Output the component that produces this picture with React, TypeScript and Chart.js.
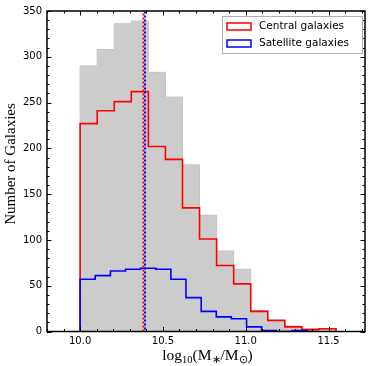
import React, { useEffect, useRef } from "react";
import { Chart, registerables } from "chart.js";

Chart.register(...registerables);

// ---- data ----
const allEdges = [10.0, 10.103, 10.206, 10.309, 10.412, 10.515, 10.618, 10.721, 10.824, 10.927, 11.03, 11.133, 11.236, 11.339, 11.442, 11.545];
const totalCounts = [290, 308, 336, 339, 283, 256, 182, 127, 88, 68, 23, 13, 6, 3, 3];
const centralCounts = [227, 241, 251, 262, 202, 188, 135, 101, 72, 52, 22, 12, 5, 2, 3];
const satelliteEdges = [10.0, 10.091, 10.183, 10.274, 10.365, 10.457, 10.548, 10.639, 10.731, 10.822, 10.913, 11.005, 11.096, 11.187, 11.279, 11.37];
const satelliteCounts = [57, 61, 66, 68, 69, 68, 57, 37, 22, 16, 14, 5, 1, 0, 1];
const centralMedian = 10.382;
const satelliteMedian = 10.392;
const xTickValues = [10.0, 10.5, 11.0, 11.5];
const yTickValues = [0, 50, 100, 150, 200, 250, 300, 350];
const legendLabels = ["Central galaxies", "Satellite galaxies"];
const yTitle = "Number of Galaxies";

const X_MIN = 9.8;
const X_MAX = 11.72;
const Y_MIN = 0;
const Y_MAX = 350;

function stepPoints(edges: number[], counts: number[]) {
  const pts: { x: number; y: number }[] = [{ x: edges[0], y: 0 }];
  counts.forEach((c, i) => pts.push({ x: edges[i], y: c }));
  pts.push({ x: edges[edges.length - 1], y: counts[counts.length - 1] });
  pts.push({ x: edges[edges.length - 1], y: 0 });
  return pts;
}

const decorPlugin = {
  id: "decor",
  afterDraw(chart: any) {
    const { ctx, chartArea } = chart;
    const { left, right, top, bottom } = chartArea;
    const xs = chart.scales.x;
    const ys = chart.scales.y;
    ctx.save();

    // inward ticks on all four sides
    ctx.strokeStyle = "#000";
    ctx.lineWidth = 1;
    ctx.beginPath();
    for (let i = 98; i <= 117; i++) {
      const v = i / 10;
      const px = Math.round(xs.getPixelForValue(v)) + 0.5;
      const len = i % 5 === 0 ? 4.5 : 2.5;
      ctx.moveTo(px, bottom);
      ctx.lineTo(px, bottom - len);
      ctx.moveTo(px, top);
      ctx.lineTo(px, top + len);
    }
    for (let i = 0; i <= 35; i++) {
      const v = i * 10;
      const py = Math.round(ys.getPixelForValue(v)) + 0.5;
      const len = i % 5 === 0 ? 4.5 : 2.5;
      ctx.moveTo(left, py);
      ctx.lineTo(left + len, py);
      ctx.moveTo(right, py);
      ctx.lineTo(right - len, py);
    }
    ctx.stroke();

    // frame
    ctx.lineWidth = 1.5;
    ctx.strokeRect(left, top, right - left, bottom - top);

    // legend
    const lx = 222.5, ly = 16.5, lw = 140, lh = 37;
    ctx.fillStyle = "#fff";
    ctx.fillRect(lx, ly, lw, lh);
    ctx.strokeStyle = "#b0b0b0";
    ctx.lineWidth = 1;
    ctx.strokeRect(lx, ly, lw, lh);
    const colors = ["#ff0000", "#0000ff"];
    ctx.font = '10.5px "DejaVu Sans"';
    ctx.textBaseline = "middle";
    ctx.textAlign = "left";
    legendLabels.forEach((lab, i) => {
      const cy = 26.5 + i * 17;
      ctx.strokeStyle = colors[i];
      ctx.lineWidth = 1.5;
      ctx.fillStyle = "#fff";
      ctx.fillRect(227, cy - 3.5, 24, 7);
      ctx.strokeRect(227, cy - 3.5, 24, 7);
      ctx.fillStyle = "#000";
      ctx.fillText(lab, 259, cy);
    });

    // y title
    ctx.save();
    ctx.translate(11, 164);
    ctx.rotate(-Math.PI / 2);
    ctx.font = '15px "Liberation Serif"';
    ctx.textAlign = "center";
    ctx.textBaseline = "middle";
    ctx.fillStyle = "#000";
    ctx.fillText(yTitle, 0, 0);
    ctx.restore();

    // x title with subscripts
    const big = '15.5px "Liberation Serif"';
    const small = '10.5px "Liberation Serif"';
    const parts: [string, boolean][] = [
      ["log", false],
      ["10", true],
      ["(M", false],
      ["\u2217", true],
      ["/M", false],
      ["\u2299", true],
      [")", false],
    ];
    let total = 0;
    const widths = parts.map(([t, sub]) => {
      ctx.font = sub ? small : big;
      const w = ctx.measureText(t).width;
      total += w;
      return w;
    });
    let x = 207.5 - total / 2;
    const baseline = 360;
    ctx.textAlign = "left";
    ctx.textBaseline = "alphabetic";
    ctx.fillStyle = "#000";
    parts.forEach(([t, sub], i) => {
      ctx.font = sub ? small : big;
      ctx.fillText(t, x, sub ? baseline + 3 : baseline);
      x += widths[i];
    });

    ctx.restore();
  },
};

export default function App() {
  const ref = useRef<HTMLCanvasElement>(null);
  useEffect(() => {
    const canvas = ref.current;
    if (!canvas) return;
    const chart = new Chart(canvas, {
      type: "line",
      data: {
        datasets: [
          {
            label: "central median",
            data: [
              { x: centralMedian, y: Y_MIN },
              { x: centralMedian, y: Y_MAX },
            ],
            borderColor: "#ff0000",
            borderWidth: 2,
            borderDash: [2, 2],
            pointRadius: 0,
            fill: false,
            order: 1,
          },
          {
            label: "satellite median",
            data: [
              { x: satelliteMedian, y: Y_MIN },
              { x: satelliteMedian, y: Y_MAX },
            ],
            borderColor: "#0000ff",
            borderWidth: 2,
            borderDash: [2, 2],
            borderDashOffset: 2,
            pointRadius: 0,
            fill: false,
            order: 0,
          },
          {
            label: legendLabels[1],
            data: stepPoints(satelliteEdges, satelliteCounts),
            stepped: "before",
            borderColor: "#0000ff",
            borderWidth: 1.6,
            pointRadius: 0,
            fill: false,
            order: 2,
          },
          {
            label: legendLabels[0],
            data: stepPoints(allEdges, centralCounts),
            stepped: "before",
            borderColor: "#ff0000",
            borderWidth: 1.6,
            pointRadius: 0,
            fill: false,
            order: 3,
          },
          {
            label: "All galaxies",
            data: stepPoints(allEdges, totalCounts),
            stepped: "before",
            borderColor: "#c4c4c4",
            backgroundColor: "#cccccc",
            borderWidth: 1,
            pointRadius: 0,
            fill: "origin",
            order: 4,
          },
        ],
      },
      options: {
        responsive: false,
        animation: false,
        devicePixelRatio: 1,
        layout: { padding: { top: 11, right: 9, left: 0, bottom: 0 } },
        plugins: {
          legend: { display: false },
          tooltip: { enabled: false },
          title: { display: false },
        },
        scales: {
          x: {
            type: "linear",
            min: X_MIN,
            max: X_MAX,
            grid: { display: false, drawTicks: false },
            border: { display: false },
            afterBuildTicks: (axis: any) => {
              axis.ticks = xTickValues.map((v) => ({ value: v }));
            },
            afterFit: (axis: any) => {
              axis.height = 34.5;
            },
            ticks: {
              padding: 4,
              maxRotation: 0,
              autoSkip: false,
              color: "#000",
              font: { family: "DejaVu Sans", size: 10 },
              callback: (v: any) => Number(v).toFixed(1),
            },
          },
          y: {
            type: "linear",
            min: Y_MIN,
            max: Y_MAX,
            grid: { display: false, drawTicks: false },
            border: { display: false },
            afterBuildTicks: (axis: any) => {
              axis.ticks = yTickValues.map((v) => ({ value: v }));
            },
            afterFit: (axis: any) => {
              axis.width = 47;
            },
            ticks: {
              padding: 5,
              autoSkip: false,
              color: "#000",
              font: { family: "DejaVu Sans", size: 10 },
              callback: (v: any) => String(v),
            },
          },
        },
      },
      plugins: [decorPlugin],
    } as any);
    return () => chart.destroy();
  }, []);

  return (
    <div style={{ position: "fixed", left: 0, top: 0, width: 374, height: 366, background: "#fff" }}>
      <canvas ref={ref} width={374} height={366} style={{ width: 374, height: 366, display: "block" }} />
    </div>
  );
}
